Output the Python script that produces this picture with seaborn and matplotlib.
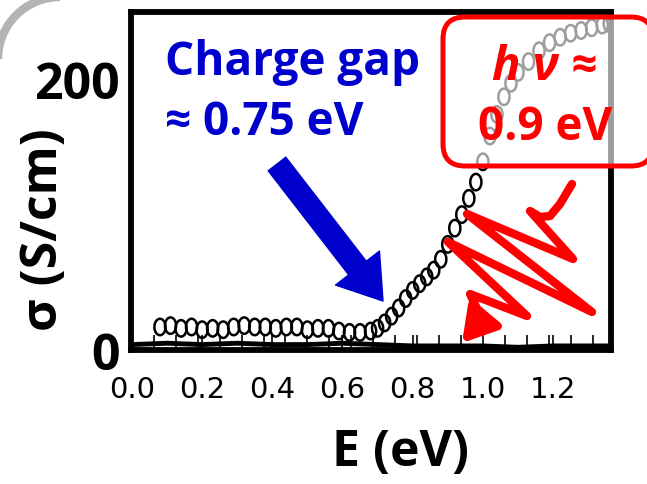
import numpy as np
import matplotlib
matplotlib.use("Agg")
import matplotlib.pyplot as plt
import seaborn as sns
from matplotlib.patches import FancyBboxPatch, FancyArrowPatch, Arc
from matplotlib.path import Path
from matplotlib.transforms import IdentityTransform
from matplotlib.ticker import MultipleLocator

# -----------------------------
# Data
# -----------------------------
energy = [0.08, 0.11, 0.14, 0.17, 0.20, 0.23, 0.26, 0.29, 0.32, 0.35, 0.38,
          0.41, 0.44, 0.47, 0.50, 0.53, 0.56, 0.59, 0.62, 0.65, 0.68,
          0.70, 0.72, 0.74, 0.76, 0.78, 0.80, 0.82, 0.84, 0.86, 0.88,
          0.90, 0.92, 0.94, 0.96, 0.98, 1.00, 1.02, 1.04, 1.06, 1.08,
          1.10, 1.13, 1.16, 1.19, 1.22, 1.25, 1.28, 1.31, 1.34, 1.36]
sigma = [17, 18, 16, 17, 15, 16, 15, 17, 18, 17, 17,
         16, 17, 17, 15, 16, 16, 14, 13, 13, 14,
         16, 20, 25, 31, 38, 44, 49, 54, 59, 67,
         78, 90, 100, 112, 124, 139, 158, 174, 187, 197,
         205, 213, 221, 227, 231, 234, 236, 238, 240, 241]

base_energy = [0.0, 0.1, 0.2, 0.3, 0.4, 0.5, 0.6, 0.7, 0.8, 0.9, 1.0, 1.1, 1.2, 1.3, 1.36]
base_sigma = [4, 5, 4, 5, 4, 4, 5, 4, 3, 3, 3, 2, 3, 3, 3]

x_ticks = [0.0, 0.2, 0.4, 0.6, 0.8, 1.0, 1.2]
x_tick_labels = ["0.0", "0.2", "0.4", "0.6", "0.8", "1.0", "1.2"]
y_ticks = [0, 200]
y_tick_labels = ["0", "200"]

W, H = 647, 485
BLUE = "#0000CC"
RED = "#FF0000"


def px(x, y):
    # image pixel (top-left origin) -> display pixel
    return (x, H - y)


sns.set_style("white")
plt.rcParams["font.family"] = ["Open Sans", "DejaVu Sans"]
plt.rcParams["text.color"] = "black"
plt.rcParams["axes.labelcolor"] = "black"
plt.rcParams["xtick.color"] = "black"
plt.rcParams["ytick.color"] = "black"

fig = plt.figure(figsize=(W / 100, H / 100), dpi=100)
ax = fig.add_axes([130.5 / W, 1 - 351 / H, (611 - 130.5) / W, (351 - 12.5) / H])

# noisy baseline and the circles
sns.lineplot(x=base_energy, y=base_sigma, color="black", lw=3.5, ax=ax)

t = np.linspace(0, 2 * np.pi, 40)
ellipse = np.column_stack([0.68 * np.cos(t), np.sin(t)])
sns.scatterplot(x=energy, y=sigma, marker=ellipse, s=140,
                facecolors="none", edgecolor="black", linewidth=1.8, ax=ax)

ax.set_xlim(-0.004, 1.365)
ax.set_ylim(0, 250)

ax.set_xticks(x_ticks)
ax.set_xticklabels(x_tick_labels, fontfamily="DejaVu Sans", fontsize=21)
ax.set_yticks(y_ticks)
ax.set_yticklabels(y_tick_labels, fontsize=36, fontweight="bold")
ax.xaxis.set_minor_locator(MultipleLocator(0.0625))
ax.tick_params(axis="x", which="both", direction="in", length=11, width=1.2,
               pad=18, bottom=True, colors="black")
ax.tick_params(axis="y", which="both", length=0, pad=8, colors="black")

for s in ax.spines.values():
    s.set_linewidth(4.2)
    s.set_color("black")

ax.set_xlabel("E (eV)", fontsize=36, fontweight="bold", color="black")
ax.set_ylabel("σ (S/cm)", fontsize=36, fontweight="bold", color="black")
ax.xaxis.set_label_coords((400 - 130.5) / 480.5, (351 - 428) / 338.5)
ax.yaxis.set_label_coords((69 - 130.5) / 480.5, (351 - 230) / 338.5)

# -----------------------------
# Annotations
# -----------------------------
idt = IdentityTransform()

fig.text(165 / W, 1 - 75 / H, "Charge gap", color=BLUE, fontsize=33,
         fontweight="bold", ha="left", va="baseline")
fig.text(165 / W, 1 - 135 / H, "≈ 0.75 eV", color=BLUE, fontsize=33,
         fontweight="bold", ha="left", va="baseline")

blue_arrow = FancyArrowPatch(px(277, 165), px(383, 302), transform=idt,
                             arrowstyle="simple,head_width=40,head_length=30,tail_width=16",
                             mutation_scale=1, color=BLUE, shrinkA=0, shrinkB=0, zorder=5)
fig.add_artist(blue_arrow)

box = FancyBboxPatch(px(443, 167), 210, 149, transform=idt,
                     boxstyle="round,pad=0,rounding_size=22",
                     facecolor=(1, 1, 1, 0.62), edgecolor=RED, lw=3.6, zorder=5)
fig.add_artist(box)

fig.text(545 / W, 1 - 80 / H, "h ν ≈", color=RED, fontsize=34, fontweight="bold",
         fontstyle="italic", ha="center", va="baseline", zorder=6)
fig.text(545 / W, 1 - 140 / H, "0.9 eV", color=RED, fontsize=33, fontweight="bold",
         ha="center", va="baseline", zorder=6)

zig = [(572, 185), (560, 205), (550, 217), (540, 218), (530, 212),
       (573, 260), (467, 215), (592, 313), (448, 243), (527, 317),
       (470, 295), (482, 320), (462, 344)]
zig_path = Path([px(x, y) for x, y in zig])
red_arrow = FancyArrowPatch(path=zig_path, transform=idt,
                            arrowstyle="-|>,head_length=20,head_width=12",
                            mutation_scale=1, color=RED, lw=6,
                            joinstyle="round", capstyle="round", zorder=6)
fig.add_artist(red_arrow)

# grey corner of the slide frame
corner = Arc(px(60, 60), 124, 124, theta1=90, theta2=180, transform=idt,
             color="#b4b4b4", lw=6, zorder=1)
fig.add_artist(corner)

fig.savefig("out.png", dpi=100)
